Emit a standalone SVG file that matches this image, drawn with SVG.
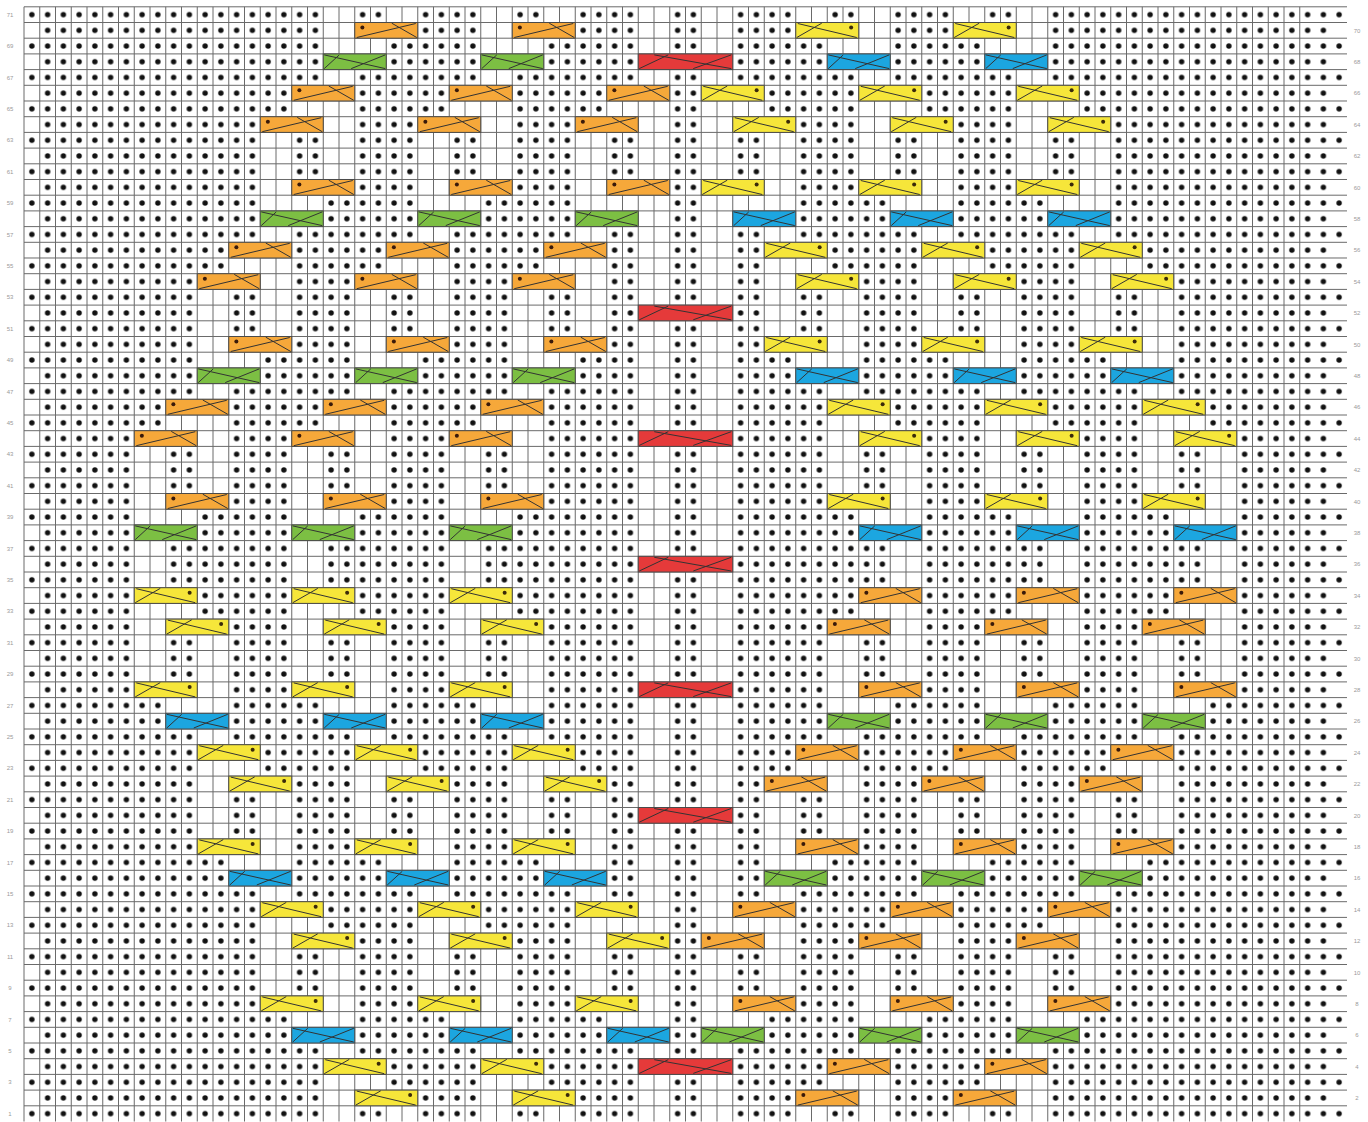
<svg xmlns="http://www.w3.org/2000/svg" xmlns:xlink="http://www.w3.org/1999/xlink" width="1368" height="1122" viewBox="0 0 1368 1122">
<style>
.cl{fill:none;stroke:#333;stroke-width:1}
.cb{stroke:#4a4a4a;stroke-width:1}
.lbl{font-family:"Liberation Sans",Arial,sans-serif;font-size:6px;fill:#9a9a9a;text-anchor:middle}
</style>
<defs>
<pattern id="pd" patternUnits="userSpaceOnUse" x="24" y="6.8" width="15.75" height="15.7">
<rect width="15.75" height="15.7" fill="#fff"/>
<circle cx="7.875" cy="7.85" r="2.7" fill="#111"/>
</pattern>
<pattern id="pe" patternUnits="userSpaceOnUse" x="24" y="22.5" width="15.75" height="31.4">
<rect width="15.75" height="15.7" fill="#fff"/>
</pattern>
<g id="O"><rect class="cb" width="63" height="15.7" fill="#f6a83a"/><path class="cl" d="M2 15 L61 1 M37 0.7 L62 15"/><circle cx="7.6" cy="5" r="2" fill="#3a1a0a"/></g>
<g id="Y"><rect class="cb" width="63" height="15.7" fill="#f6e63a"/><path class="cl" d="M61 15 L2 1 M26 0.7 L1 15"/><circle cx="55.4" cy="5" r="2" fill="#3a2a0a"/></g>
<g id="G"><rect class="cb" width="63" height="15.7" fill="#7cbf43"/><path class="cl" d="M1 1 L62 14.7 M28 14.7 L62 1 M1 14.7 L16 1"/></g>
<g id="B"><rect class="cb" width="63" height="15.7" fill="#1ca6e0"/><path class="cl" d="M1 1 L62 14.7 M28 14.7 L62 1 M1 14.7 L16 1"/></g>
<g id="R"><rect class="cb" width="94.5" height="15.7" fill="#e53a3a"/><path class="cl" d="M1 14.7 L30 1 M16 1 L93 14.7 M55 14.7 L93 1"/></g>
</defs>
<rect width="1368" height="1122" fill="#fff"/>
<g id="grid-base">
<rect x="24" y="6.8" width="1323" height="1114.7" fill="url(#pd)"/>
<rect x="24" y="6.8" width="15.75" height="1114.7" fill="url(#pe)"/>
<rect x="1331.25" y="6.8" width="15.75" height="1114.7" fill="url(#pe)"/>
</g>
<g id="knit">
<g id="kq" fill="#fff">
<rect x="134.25" y="430.7" width="31.5" height="157"/>
<rect x="165.75" y="399.3" width="31.5" height="47.1"/>
<rect x="165.75" y="493.5" width="31.5" height="47.1"/>
<rect x="197.25" y="273.7" width="31.5" height="235.5"/>
<rect x="228.75" y="242.3" width="31.5" height="47.1"/>
<rect x="228.75" y="336.5" width="31.5" height="47.1"/>
<rect x="260.25" y="116.7" width="31.5" height="235.5"/>
<rect x="291.75" y="85.3" width="31.5" height="47.1"/>
<rect x="291.75" y="179.5" width="31.5" height="47.1"/>
<rect x="291.75" y="430.7" width="31.5" height="157"/>
<rect x="323.25" y="6.8" width="31.5" height="188.4"/>
<rect x="323.25" y="399.3" width="31.5" height="47.1"/>
<rect x="323.25" y="493.5" width="31.5" height="47.1"/>
<rect x="354.75" y="22.5" width="31.5" height="47.1"/>
<rect x="354.75" y="273.7" width="31.5" height="235.5"/>
<rect x="386.25" y="6.8" width="31.5" height="31.4"/>
<rect x="386.25" y="242.3" width="31.5" height="47.1"/>
<rect x="386.25" y="336.5" width="31.5" height="47.1"/>
<rect x="417.75" y="116.7" width="31.5" height="235.5"/>
<rect x="449.25" y="85.3" width="31.5" height="47.1"/>
<rect x="449.25" y="179.5" width="31.5" height="47.1"/>
<rect x="449.25" y="430.7" width="31.5" height="157"/>
<rect x="480.75" y="6.8" width="31.5" height="188.4"/>
<rect x="480.75" y="399.3" width="31.5" height="47.1"/>
<rect x="480.75" y="493.5" width="31.5" height="47.1"/>
<rect x="512.25" y="22.5" width="31.5" height="47.1"/>
<rect x="512.25" y="273.7" width="31.5" height="235.5"/>
<rect x="543.75" y="6.8" width="31.5" height="31.4"/>
<rect x="543.75" y="242.3" width="31.5" height="47.1"/>
<rect x="543.75" y="336.5" width="31.5" height="47.1"/>
<rect x="575.25" y="116.7" width="31.5" height="235.5"/>
<rect x="606.75" y="85.3" width="31.5" height="47.1"/>
<rect x="606.75" y="179.5" width="31.5" height="47.1"/>
<rect x="638.25" y="6.8" width="31.5" height="565.2"/>
</g>
<use href="#kq" transform="matrix(-1 0 0 1 1371 0)"/>
<use href="#kq" transform="matrix(1 0 0 -1 0 1128.3)"/>
<use href="#kq" transform="matrix(-1 0 0 -1 1371 1128.3)"/>
</g>
<g id="gridlines" fill="none" stroke="#6a6a6a" stroke-width="1">
<path d="M24 6.8v1114.7m15.75-1114.7v1114.7m15.75-1114.7v1114.7m15.75-1114.7v1114.7m15.75-1114.7v1114.7m15.75-1114.7v1114.7m15.75-1114.7v1114.7m15.75-1114.7v1114.7m15.75-1114.7v1114.7m15.75-1114.7v1114.7m15.75-1114.7v1114.7m15.75-1114.7v1114.7m15.75-1114.7v1114.7m15.75-1114.7v1114.7m15.75-1114.7v1114.7m15.75-1114.7v1114.7m15.75-1114.7v1114.7m15.75-1114.7v1114.7m15.75-1114.7v1114.7m15.75-1114.7v1114.7m15.75-1114.7v1114.7m15.75-1114.7v1114.7m15.75-1114.7v1114.7m15.75-1114.7v1114.7m15.75-1114.7v1114.7m15.75-1114.7v1114.7m15.75-1114.7v1114.7m15.75-1114.7v1114.7m15.75-1114.7v1114.7m15.75-1114.7v1114.7m15.75-1114.7v1114.7m15.75-1114.7v1114.7m15.75-1114.7v1114.7m15.75-1114.7v1114.7m15.75-1114.7v1114.7m15.75-1114.7v1114.7m15.75-1114.7v1114.7m15.75-1114.7v1114.7m15.75-1114.7v1114.7m15.75-1114.7v1114.7m15.75-1114.7v1114.7m15.75-1114.7v1114.7m15.75-1114.7v1114.7m15.75-1114.7v1114.7m15.75-1114.7v1114.7m15.75-1114.7v1114.7m15.75-1114.7v1114.7m15.75-1114.7v1114.7m15.75-1114.7v1114.7m15.75-1114.7v1114.7m15.75-1114.7v1114.7m15.75-1114.7v1114.7m15.75-1114.7v1114.7m15.75-1114.7v1114.7m15.75-1114.7v1114.7m15.75-1114.7v1114.7m15.75-1114.7v1114.7m15.75-1114.7v1114.7m15.75-1114.7v1114.7m15.75-1114.7v1114.7m15.75-1114.7v1114.7m15.75-1114.7v1114.7m15.75-1114.7v1114.7m15.75-1114.7v1114.7m15.75-1114.7v1114.7m15.75-1114.7v1114.7m15.75-1114.7v1114.7m15.75-1114.7v1114.7m15.75-1114.7v1114.7m15.75-1114.7v1114.7m15.75-1114.7v1114.7m15.75-1114.7v1114.7m15.75-1114.7v1114.7m15.75-1114.7v1114.7m15.75-1114.7v1114.7m15.75-1114.7v1114.7m15.75-1114.7v1114.7m15.75-1114.7v1114.7m15.75-1114.7v1114.7m15.75-1114.7v1114.7m15.75-1114.7v1114.7m15.75-1114.7v1114.7"/>
<path d="M24 6.8h1323m-1323 15.7h1323m-1323 15.7h1323m-1323 15.7h1323m-1323 15.7h1323m-1323 15.7h1323m-1323 15.7h1323m-1323 15.7h1323m-1323 15.7h1323m-1323 15.7h1323m-1323 15.7h1323m-1323 15.7h1323m-1323 15.7h1323m-1323 15.7h1323m-1323 15.7h1323m-1323 15.7h1323m-1323 15.7h1323m-1323 15.7h1323m-1323 15.7h1323m-1323 15.7h1323m-1323 15.7h1323m-1323 15.7h1323m-1323 15.7h1323m-1323 15.7h1323m-1323 15.7h1323m-1323 15.7h1323m-1323 15.7h1323m-1323 15.7h1323m-1323 15.7h1323m-1323 15.7h1323m-1323 15.7h1323m-1323 15.7h1323m-1323 15.7h1323m-1323 15.7h1323m-1323 15.7h1323m-1323 15.7h1323m-1323 15.7h1323m-1323 15.7h1323m-1323 15.7h1323m-1323 15.7h1323m-1323 15.7h1323m-1323 15.7h1323m-1323 15.7h1323m-1323 15.7h1323m-1323 15.7h1323m-1323 15.7h1323m-1323 15.7h1323m-1323 15.7h1323m-1323 15.7h1323m-1323 15.7h1323m-1323 15.7h1323m-1323 15.7h1323m-1323 15.7h1323m-1323 15.7h1323m-1323 15.7h1323m-1323 15.7h1323m-1323 15.7h1323m-1323 15.7h1323m-1323 15.7h1323m-1323 15.7h1323m-1323 15.7h1323m-1323 15.7h1323m-1323 15.7h1323m-1323 15.7h1323m-1323 15.7h1323m-1323 15.7h1323m-1323 15.7h1323m-1323 15.7h1323m-1323 15.7h1323m-1323 15.7h1323m-1323 15.7h1323"/>
</g>
<g id="cables">
<g id="cables-upper-left">
<use href="#G" x="134.25" y="524.9"/><use href="#G" x="291.75" y="524.9"/><use href="#G" x="449.25" y="524.9"/>
<use href="#G" x="197.25" y="367.9"/><use href="#G" x="354.75" y="367.9"/><use href="#G" x="512.25" y="367.9"/>
<use href="#G" x="260.25" y="210.9"/><use href="#G" x="417.75" y="210.9"/><use href="#G" x="575.25" y="210.9"/>
<use href="#G" x="323.25" y="53.9"/><use href="#G" x="480.75" y="53.9"/>
<use href="#O" x="165.75" y="493.5"/><use href="#O" x="323.25" y="493.5"/><use href="#O" x="480.75" y="493.5"/>
<use href="#O" x="134.25" y="430.7"/><use href="#O" x="291.75" y="430.7"/><use href="#O" x="449.25" y="430.7"/>
<use href="#O" x="165.75" y="399.3"/><use href="#O" x="323.25" y="399.3"/><use href="#O" x="480.75" y="399.3"/>
<use href="#O" x="228.75" y="336.5"/><use href="#O" x="386.25" y="336.5"/><use href="#O" x="543.75" y="336.5"/>
<use href="#O" x="197.25" y="273.7"/><use href="#O" x="354.75" y="273.7"/><use href="#O" x="512.25" y="273.7"/>
<use href="#O" x="228.75" y="242.3"/><use href="#O" x="386.25" y="242.3"/><use href="#O" x="543.75" y="242.3"/>
<use href="#O" x="291.75" y="179.5"/><use href="#O" x="449.25" y="179.5"/><use href="#O" x="606.75" y="179.5"/>
<use href="#O" x="260.25" y="116.7"/><use href="#O" x="417.75" y="116.7"/><use href="#O" x="575.25" y="116.7"/>
<use href="#O" x="291.75" y="85.3"/><use href="#O" x="449.25" y="85.3"/><use href="#O" x="606.75" y="85.3"/>
<use href="#O" x="354.75" y="22.5"/><use href="#O" x="512.25" y="22.5"/>
</g>
<g id="cables-lower-left">
<use href="#Y" x="134.25" y="587.7"/><use href="#Y" x="291.75" y="587.7"/><use href="#Y" x="449.25" y="587.7"/>
<use href="#Y" x="165.75" y="619.1"/><use href="#Y" x="323.25" y="619.1"/><use href="#Y" x="480.75" y="619.1"/>
<use href="#Y" x="134.25" y="681.9"/><use href="#Y" x="291.75" y="681.9"/><use href="#Y" x="449.25" y="681.9"/>
<use href="#Y" x="197.25" y="744.7"/><use href="#Y" x="354.75" y="744.7"/><use href="#Y" x="512.25" y="744.7"/>
<use href="#Y" x="228.75" y="776.1"/><use href="#Y" x="386.25" y="776.1"/><use href="#Y" x="543.75" y="776.1"/>
<use href="#Y" x="197.25" y="838.9"/><use href="#Y" x="354.75" y="838.9"/><use href="#Y" x="512.25" y="838.9"/>
<use href="#Y" x="260.25" y="901.7"/><use href="#Y" x="417.75" y="901.7"/><use href="#Y" x="575.25" y="901.7"/>
<use href="#Y" x="291.75" y="933.1"/><use href="#Y" x="449.25" y="933.1"/><use href="#Y" x="606.75" y="933.1"/>
<use href="#Y" x="260.25" y="995.9"/><use href="#Y" x="417.75" y="995.9"/><use href="#Y" x="575.25" y="995.9"/>
<use href="#Y" x="323.25" y="1058.7"/><use href="#Y" x="480.75" y="1058.7"/>
<use href="#Y" x="354.75" y="1090.1"/><use href="#Y" x="512.25" y="1090.1"/>
<use href="#B" x="165.75" y="713.3"/><use href="#B" x="323.25" y="713.3"/><use href="#B" x="480.75" y="713.3"/>
<use href="#B" x="228.75" y="870.3"/><use href="#B" x="386.25" y="870.3"/><use href="#B" x="543.75" y="870.3"/>
<use href="#B" x="291.75" y="1027.3"/><use href="#B" x="449.25" y="1027.3"/><use href="#B" x="606.75" y="1027.3"/>
</g>
<g id="cables-upper-right">
<use href="#B" x="1173.75" y="524.9"/><use href="#B" x="1016.25" y="524.9"/><use href="#B" x="858.75" y="524.9"/>
<use href="#B" x="1110.75" y="367.9"/><use href="#B" x="953.25" y="367.9"/><use href="#B" x="795.75" y="367.9"/>
<use href="#B" x="1047.75" y="210.9"/><use href="#B" x="890.25" y="210.9"/><use href="#B" x="732.75" y="210.9"/>
<use href="#B" x="984.75" y="53.9"/><use href="#B" x="827.25" y="53.9"/>
<use href="#Y" x="1142.25" y="493.5"/><use href="#Y" x="984.75" y="493.5"/><use href="#Y" x="827.25" y="493.5"/>
<use href="#Y" x="1173.75" y="430.7"/><use href="#Y" x="1016.25" y="430.7"/><use href="#Y" x="858.75" y="430.7"/>
<use href="#Y" x="1142.25" y="399.3"/><use href="#Y" x="984.75" y="399.3"/><use href="#Y" x="827.25" y="399.3"/>
<use href="#Y" x="1079.25" y="336.5"/><use href="#Y" x="921.75" y="336.5"/><use href="#Y" x="764.25" y="336.5"/>
<use href="#Y" x="1110.75" y="273.7"/><use href="#Y" x="953.25" y="273.7"/><use href="#Y" x="795.75" y="273.7"/>
<use href="#Y" x="1079.25" y="242.3"/><use href="#Y" x="921.75" y="242.3"/><use href="#Y" x="764.25" y="242.3"/>
<use href="#Y" x="1016.25" y="179.5"/><use href="#Y" x="858.75" y="179.5"/><use href="#Y" x="701.25" y="179.5"/>
<use href="#Y" x="1047.75" y="116.7"/><use href="#Y" x="890.25" y="116.7"/><use href="#Y" x="732.75" y="116.7"/>
<use href="#Y" x="1016.25" y="85.3"/><use href="#Y" x="858.75" y="85.3"/><use href="#Y" x="701.25" y="85.3"/>
<use href="#Y" x="953.25" y="22.5"/><use href="#Y" x="795.75" y="22.5"/>
</g>
<g id="cables-lower-right">
<use href="#O" x="1173.75" y="587.7"/><use href="#O" x="1016.25" y="587.7"/><use href="#O" x="858.75" y="587.7"/>
<use href="#O" x="1142.25" y="619.1"/><use href="#O" x="984.75" y="619.1"/><use href="#O" x="827.25" y="619.1"/>
<use href="#O" x="1173.75" y="681.9"/><use href="#O" x="1016.25" y="681.9"/><use href="#O" x="858.75" y="681.9"/>
<use href="#O" x="1110.75" y="744.7"/><use href="#O" x="953.25" y="744.7"/><use href="#O" x="795.75" y="744.7"/>
<use href="#O" x="1079.25" y="776.1"/><use href="#O" x="921.75" y="776.1"/><use href="#O" x="764.25" y="776.1"/>
<use href="#O" x="1110.75" y="838.9"/><use href="#O" x="953.25" y="838.9"/><use href="#O" x="795.75" y="838.9"/>
<use href="#O" x="1047.75" y="901.7"/><use href="#O" x="890.25" y="901.7"/><use href="#O" x="732.75" y="901.7"/>
<use href="#O" x="1016.25" y="933.1"/><use href="#O" x="858.75" y="933.1"/><use href="#O" x="701.25" y="933.1"/>
<use href="#O" x="1047.75" y="995.9"/><use href="#O" x="890.25" y="995.9"/><use href="#O" x="732.75" y="995.9"/>
<use href="#O" x="984.75" y="1058.7"/><use href="#O" x="827.25" y="1058.7"/>
<use href="#O" x="953.25" y="1090.1"/><use href="#O" x="795.75" y="1090.1"/>
<use href="#G" x="1142.25" y="713.3"/><use href="#G" x="984.75" y="713.3"/><use href="#G" x="827.25" y="713.3"/>
<use href="#G" x="1079.25" y="870.3"/><use href="#G" x="921.75" y="870.3"/><use href="#G" x="764.25" y="870.3"/>
<use href="#G" x="1016.25" y="1027.3"/><use href="#G" x="858.75" y="1027.3"/><use href="#G" x="701.25" y="1027.3"/>
</g>
<g id="cables-center">
<use href="#R" x="638.25" y="53.9"/><use href="#R" x="638.25" y="305.1"/><use href="#R" x="638.25" y="430.7"/>
<use href="#R" x="638.25" y="556.3"/><use href="#R" x="638.25" y="681.9"/><use href="#R" x="638.25" y="807.5"/>
<use href="#R" x="638.25" y="1058.7"/>
</g>
</g>
<g id="row-labels-left" class="lbl">
<text x="10" y="16.8">71</text><text x="10" y="48.2">69</text><text x="10" y="79.6">67</text><text x="10" y="111">65</text>
<text x="10" y="142.4">63</text><text x="10" y="173.8">61</text><text x="10" y="205.2">59</text><text x="10" y="236.6">57</text>
<text x="10" y="268">55</text><text x="10" y="299.4">53</text><text x="10" y="330.8">51</text><text x="10" y="362.2">49</text>
<text x="10" y="393.6">47</text><text x="10" y="425">45</text><text x="10" y="456.4">43</text><text x="10" y="487.8">41</text>
<text x="10" y="519.2">39</text><text x="10" y="550.6">37</text><text x="10" y="582">35</text><text x="10" y="613.4">33</text>
<text x="10" y="644.8">31</text><text x="10" y="676.2">29</text><text x="10" y="707.6">27</text><text x="10" y="739">25</text>
<text x="10" y="770.4">23</text><text x="10" y="801.8">21</text><text x="10" y="833.2">19</text><text x="10" y="864.6">17</text>
<text x="10" y="896">15</text><text x="10" y="927.4">13</text><text x="10" y="958.8">11</text><text x="10" y="990.2">9</text>
<text x="10" y="1021.6">7</text><text x="10" y="1053">5</text><text x="10" y="1084.4">3</text><text x="10" y="1115.8">1</text>
</g>
<g id="row-labels-right" class="lbl">
<text x="1357" y="32.5">70</text><text x="1357" y="63.9">68</text><text x="1357" y="95.3">66</text><text x="1357" y="126.7">64</text>
<text x="1357" y="158.1">62</text><text x="1357" y="189.5">60</text><text x="1357" y="220.9">58</text><text x="1357" y="252.3">56</text>
<text x="1357" y="283.7">54</text><text x="1357" y="315.1">52</text><text x="1357" y="346.5">50</text><text x="1357" y="377.9">48</text>
<text x="1357" y="409.3">46</text><text x="1357" y="440.7">44</text><text x="1357" y="472.1">42</text><text x="1357" y="503.5">40</text>
<text x="1357" y="534.9">38</text><text x="1357" y="566.3">36</text><text x="1357" y="597.7">34</text><text x="1357" y="629.1">32</text>
<text x="1357" y="660.5">30</text><text x="1357" y="691.9">28</text><text x="1357" y="723.3">26</text><text x="1357" y="754.7">24</text>
<text x="1357" y="786.1">22</text><text x="1357" y="817.5">20</text><text x="1357" y="848.9">18</text><text x="1357" y="880.3">16</text>
<text x="1357" y="911.7">14</text><text x="1357" y="943.1">12</text><text x="1357" y="974.5">10</text><text x="1357" y="1005.9">8</text>
<text x="1357" y="1037.3">6</text><text x="1357" y="1068.7">4</text><text x="1357" y="1100.1">2</text>
</g>
</svg>
